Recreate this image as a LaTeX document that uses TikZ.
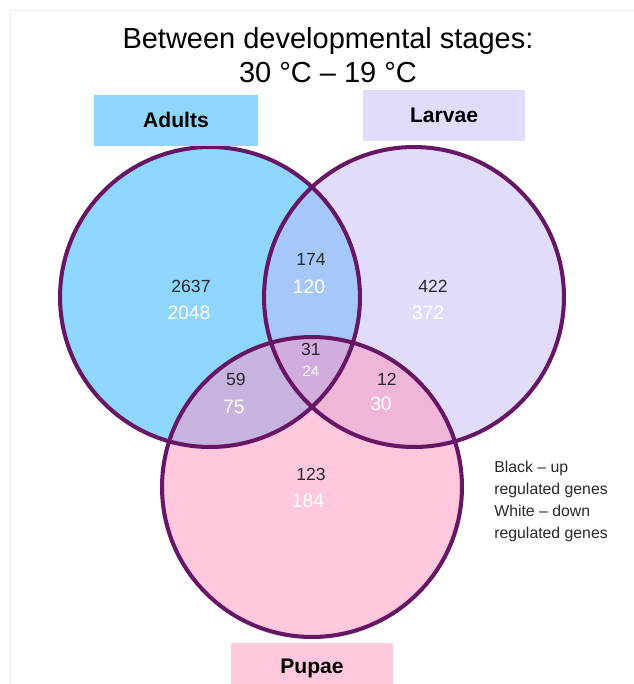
\documentclass[tikz,border=0pt]{standalone}
\usepackage{fontspec}
\setmainfont{Liberation Sans}

\definecolor{adultfill}{RGB}{142,214,252}
\definecolor{larvaefill}{RGB}{226,220,252}
\definecolor{pupaefill}{RGB}{255,200,220}
\definecolor{alfill}{RGB}{166,200,248}
\definecolor{apfill}{RGB}{198,180,222}
\definecolor{lpfill}{RGB}{240,182,218}
\definecolor{alpfill}{RGB}{210,172,220}
\definecolor{vennline}{RGB}{102,22,100}
\definecolor{upgray}{RGB}{40,40,45}

\tikzset{%
  venn/.style={
    circle,
    inner sep=0pt,
    minimum size=6cm
  },
  venn line/.style={
    draw=vennline,
    line width=2.3pt
  },
  stage/.style={
    inner sep=0pt,
    minimum width=3.3cm,
    minimum height=1.02cm,
    font=\bfseries\fontsize{12}{14}\selectfont
  },
  up/.style={
    text=upgray,
    font=\fontsize{10}{12}\selectfont
  },
  down/.style={
    text=white,
    font=\fontsize{11}{13}\selectfont
  },
}

\begin{document}
\begin{tikzpicture}[x=0.02cm, y=-0.02cm]

    \useasboundingbox (0,0) rectangle (634,684);
    \draw [black!7] (10,684) -- (10,10) -- (634,10);

    \node [font=\fontsize{16.5}{19.5}\selectfont, align=center] (title) at (328,55)
      {Between developmental stages:\\30 °C – 19 °C};

    \node [venn, fill=adultfill] (adults) at (210,297) {};
    \node [venn, fill=larvaefill] (larvae) at (414,297) {};
    \node [venn, fill=pupaefill] (pupae) at (312,487) {};

    \begin{scope}
      \clip (adults.center) circle [radius=3cm];
      \fill [alfill] (larvae.center) circle [radius=3cm];
      \fill [apfill] (pupae.center) circle [radius=3cm];
    \end{scope}
    \begin{scope}
      \clip (larvae.center) circle [radius=3cm];
      \fill [lpfill] (pupae.center) circle [radius=3cm];
    \end{scope}
    \begin{scope}
      \clip (adults.center) circle [radius=3cm];
      \clip (larvae.center) circle [radius=3cm];
      \fill [alpfill] (pupae.center) circle [radius=3cm];
    \end{scope}

    \foreach \c in {adults,larvae,pupae}
      \draw [venn line] (\c.center) circle [radius=3cm];

    \node [stage, fill=adultfill] (adults-label) at (176,120) {Adults};
    \node [stage, fill=larvaefill, minimum width=3.24cm] (larvae-label) at (444,115) {Larvae};
    \node [stage, fill=pupaefill, minimum width=3.24cm] (pupae-label) at (312,668) {Pupae};

    \foreach \n/\x/\y/\v in {a/191/286/2637, al/311/259/174, l/433/286/422,
                             alp/311/349/31, ap/236/379/59, lp/387/379/12, p/311/474/123}
      \node [up] (up-\n) at (\x,\y) {\v};

    \foreach \n/\x/\y/\v in {a/189/313/2048, al/309/287/120, l/428/313/372,
                             ap/234/407/75, lp/381/404/30, p/308/501/184}
      \node [down] (down-\n) at (\x,\y) {\v};

    \node [down, font=\fontsize{8.5}{10}\selectfont] (down-alp) at (311,371) {24};

    \node [anchor=west, align=left, text=upgray, inner sep=0pt,
      font=\fontsize{9}{12.5}\selectfont] (key) at (494,501)
      {Black – up\\regulated genes\\White – down\\regulated genes};

\end{tikzpicture}
\end{document}
